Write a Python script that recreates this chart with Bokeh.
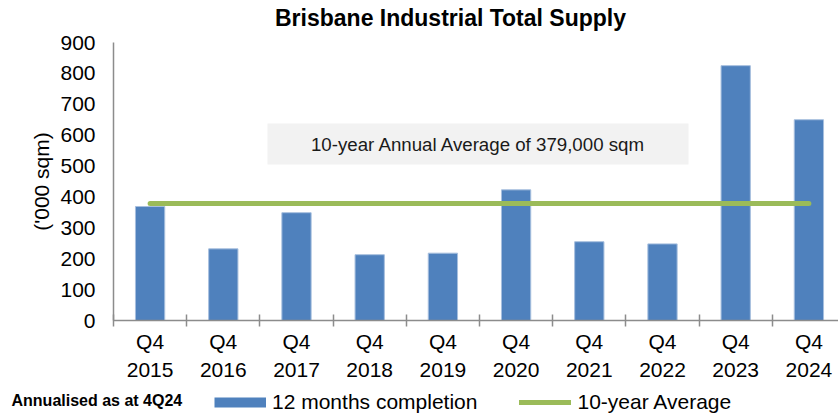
from bokeh.plotting import figure
from bokeh.models import Range1d, FixedTicker, Legend, LegendItem, Label, BoxAnnotation
from bokeh.embed import file_html
from bokeh.resources import INLINE

# ---- data ----
quarters = ["Q4"] * 10
years = ["2015", "2016", "2017", "2018", "2019", "2020", "2021", "2022", "2023", "2024"]
completions = [369, 232, 349, 213, 218, 423, 255, 248, 825, 650]
ten_year_avg = 379
y_ticks = [0, 100, 200, 300, 400, 500, 600, 700, 800, 900]
title_text = "Brisbane Industrial Total Supply"
note_text = "10-year Annual Average of 379,000 sqm"
foot_text = "Annualised as at 4Q24"
series_names = ["12 months completion", "10-year Average"]

FONT = "Liberation Sans"
BLUE = "#4F81BD"
GREEN = "#9BBB59"
AXIS = "#8C8C8C"

# ---- layout (pixels) ----
W, H = 838, 414
X0_PX, Y0_PX, Y900_PX = 113, 320, 42     # page position of x=0, y=0, y=900
CAT_PX = 73.2                             # width of one category
ypx = (Y0_PX - Y900_PX) / 900.0           # px per unit

n = len(years)
centers = [i + 0.5 for i in range(n)]
bounds = list(range(n + 1))

x_start = -X0_PX / CAT_PX
x_end = (W - X0_PX) / CAT_PX
y_start = -(H - Y0_PX) / ypx
y_end = 900 + Y900_PX / ypx

def dx(px):
    return (px - X0_PX) / CAT_PX

def dy(py):
    return (Y0_PX - py) / ypx

p = figure(width=W, height=H, x_range=Range1d(x_start, x_end), y_range=Range1d(y_start, y_end),
           output_backend="svg", toolbar_location=None,
           min_border_left=0, min_border_right=0, min_border_top=0, min_border_bottom=0)
p.title.visible = False
p.outline_line_color = None
p.xgrid.visible = False
p.ygrid.visible = False
p.background_fill_color = "white"
p.border_fill_color = "white"

# title (as label)
p.add_layout(Label(x=dx(450), y=dy(17.5), text=title_text, text_font=FONT, text_font_size="23px",
                   text_font_style="bold", text_align="center", text_baseline="middle",
                   text_color="black"))

# note box
box = BoxAnnotation(left=dx(267), right=dx(688), bottom=dy(164), top=dy(123),
                    fill_color="#F2F2F2", fill_alpha=1, line_alpha=0, level="underlay")
p.add_layout(box)
p.add_layout(Label(x=dx(478), y=dy(144), text=note_text, text_font=FONT, text_font_size="18.7px",
                   text_align="center", text_baseline="middle", text_color="#1a1a1a"))

# bars & line
bars = p.vbar(x=centers, top=completions, width=0.4, bottom=0,
              fill_color=BLUE, line_color="#A7BFDE", line_width=1)
avg_line = p.line(x=centers, y=[ten_year_avg] * n, line_width=5, line_color=GREEN, line_cap="round")
# one-point line (draws nothing on the plot) used only as the legend swatch of the bars
bar_proxy = p.line(x=centers[:1], y=[0], line_width=10, line_color=BLUE, line_cap="butt")

# x axis (fixed at y=0)
xa = p.xaxis[0]
xa.fixed_location = 0
xa.bounds = (0, x_end)
xa.ticker = FixedTicker(ticks=centers, minor_ticks=bounds)
xa.major_label_overrides = {c: f"{q}\n{y}" for c, q, y in zip(centers, quarters, years)}
xa.major_tick_in = 0
xa.major_tick_out = 0
xa.minor_tick_in = 6
xa.minor_tick_out = 6
xa.minor_tick_line_color = AXIS
xa.minor_tick_line_width = 1.5
xa.axis_line_color = AXIS
xa.axis_line_width = 1.5
xa.major_label_text_font = FONT
xa.major_label_text_font_size = "21px"
xa.major_label_text_color = "black"
xa.major_label_text_line_height = 1.25
xa.major_label_standoff = 3

# y axis (fixed at x=0)
ya = p.yaxis[0]
ya.fixed_location = 0
ya.bounds = (0, 900)
ya.ticker = FixedTicker(ticks=y_ticks)
ya.major_tick_in = 0
ya.major_tick_out = 0
ya.minor_tick_in = 0
ya.minor_tick_out = 0
ya.axis_line_color = AXIS
ya.axis_line_width = 1.5
ya.major_label_text_font = FONT
ya.major_label_text_font_size = "21px"
ya.major_label_text_color = "black"
ya.major_label_standoff = 18
ya.axis_label = "('000 sqm)"
ya.axis_label_text_font = FONT
ya.axis_label_text_font_size = "21px"
ya.axis_label_text_font_style = "normal"
ya.axis_label_text_color = "black"
ya.axis_label_standoff = 4

# legend
legend = Legend(items=[LegendItem(label=series_names[0], renderers=[bar_proxy]),
                       LegendItem(label=series_names[1], renderers=[avg_line])],
                orientation="horizontal", location=(214, 0),
                glyph_width=52, glyph_height=22, label_height=22, label_standoff=6, spacing=42,
                padding=0, margin=0, border_line_color=None, background_fill_alpha=0,
                label_text_font=FONT, label_text_font_size="21px", label_text_color="black")
p.add_layout(legend, "center")

# footnote
p.add_layout(Label(x=dx(11), y=dy(399.5), text=foot_text,
                   text_font=FONT, text_font_size="16px", text_font_style="bold",
                   text_baseline="middle", text_color="black"))

open("out.html", "w").write(file_html(p, INLINE))
